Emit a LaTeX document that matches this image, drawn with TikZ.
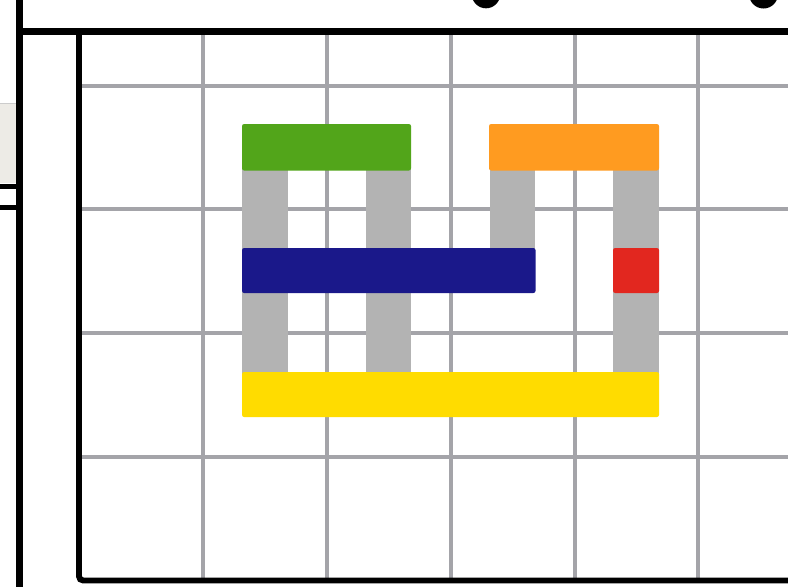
\documentclass[tikz,border=0pt]{standalone}
\usepackage{tikz}
\definecolor{gridgray}{HTML}{A4A4A9}
\definecolor{pillargray}{HTML}{B3B3B3}
\definecolor{brickgreen}{HTML}{52A51A}
\definecolor{brickorange}{HTML}{FF9B20}
\definecolor{brickblue}{HTML}{1A188A}
\definecolor{brickred}{HTML}{E2271F}
\definecolor{brickyellow}{HTML}{FFDC00}
\definecolor{panelbeige}{HTML}{EDEBE6}
\tikzset{
  gridline/.style={draw=gridgray, line width=2.6pt},
  frameline/.style={draw=black, line width=#1},
  pillar/.style={fill=pillargray, draw=none},
  brick/.style={fill=#1, draw=none, rounded corners=1.5pt},
}
\begin{document}
\begin{tikzpicture}[x=0.025cm, y=-0.025cm]
\useasboundingbox (0,0) rectangle (788,586);
\clip (0,0) rectangle (788,586);
\fill[white] (0,0) rectangle (788,586);
% left panel
\fill[panelbeige] (0,103) rectangle (16,183);
\draw[draw=gray!40, line width=0.6pt] (0,103.5) -- (16,103.5);
\draw[frameline=3.6pt] (0,186.5) -- (17,186.5);
\draw[frameline=3.6pt] (0,207.5) -- (17,207.5);
% grid
\foreach \gx in {203,327,451,575,698} {
  \draw[gridline] (\gx,35) -- (\gx,578);
}
\foreach \gy in {86,209,333,457} {
  \draw[gridline] (82,\gy) -- (788,\gy);
}
% pillars
\fill[pillar] (242,147) rectangle (288,395);
\fill[pillar] (366,147) rectangle (411,395);
\fill[pillar] (490,147) rectangle (535,270);
\fill[pillar] (613,147) rectangle (659,395);
% bricks
\fill[brick=brickgreen] (242,124) rectangle (411,170.5);
\fill[brick=brickorange] (489,124) rectangle (659,170.5);
\fill[brick=brickblue] (242,248) rectangle (535.5,293);
\fill[brick=brickred] (613,248) rectangle (659,293);
\fill[brick=brickyellow] (242,372) rectangle (659,417);
% frame
\draw[frameline=4.2pt, rounded corners=3pt] (79,33) -- (79,580.5) -- (790,580.5);
\draw[frameline=5pt] (16,31.5) -- (790,31.5);
\draw[frameline=5pt] (19.5,-2) -- (19.5,590);
% dots
\fill[black] (486,-6) circle (14.3);
\fill[black] (763.5,-6) circle (14.5);
\end{tikzpicture}
\end{document}
